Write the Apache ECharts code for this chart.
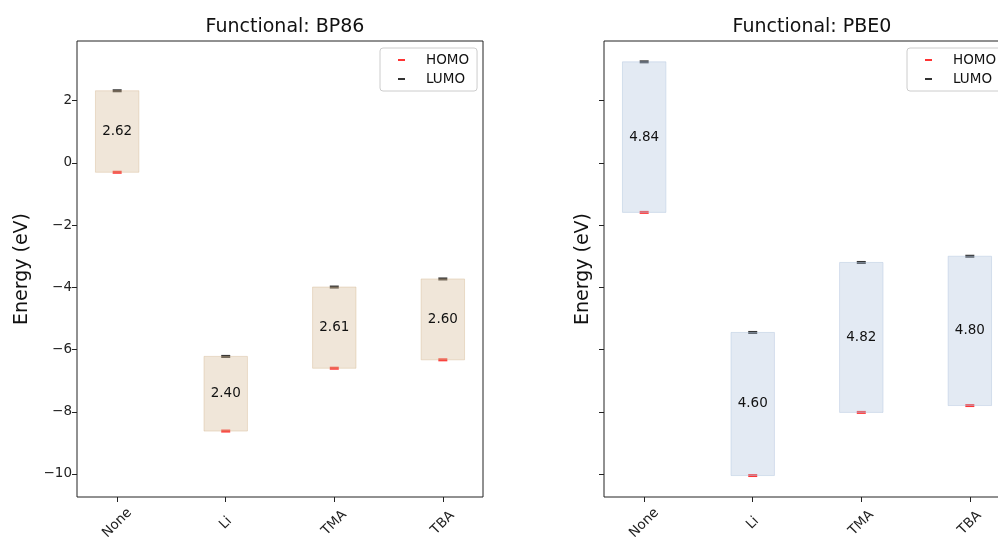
<!DOCTYPE html>
<html>
<head>
<meta charset="utf-8">
<script src="https://cdn.jsdelivr.net/npm/echarts@6/dist/echarts.min.js"></script>
<style>
  html, body { margin: 0; padding: 0; background: #fff; }
  #chart { width: 998px; height: 539px; }
</style>
</head>
<body>
<div id="chart"></div>
<script>
// values
var categories = ['None', 'Li', 'TMA', 'TBA'];
var bp86Homo = [-0.30, -8.62, -6.60, -6.33];
var bp86Lumo = [2.32, -6.22, -3.99, -3.73];
var bp86Gap = [2.62, 2.40, 2.61, 2.60];
var pbe0Homo = [-1.59, -10.05, -8.02, -7.80];
var pbe0Lumo = [3.25, -5.45, -3.20, -3.00];
var pbe0Gap = [4.84, 4.60, 4.82, 4.80];
var yTicks = [-10, -8, -6, -4, -2, 0, 2];
var xTicks = [0, 1, 2, 3];

var FONT = 'DejaVu Sans';
var myChart = echarts.init(document.getElementById('chart'));

function points(vals) {
    return vals.map(function (v, i) { return [i, v]; });
}
function boxes(homo, lumo, gap) {
    return homo.map(function (h, i) { return [i, h, lumo[i], gap[i]]; });
}

// rectangle from HOMO to LUMO, gap written in the middle
function boxRenderer(fill, edge) {
    return function (params, api) {
        var x = api.value(0);
        var lo = api.coord([x - 0.2, api.value(1)]);
        var hi = api.coord([x + 0.2, api.value(2)]);
        return {
            type: 'group',
            children: [{
                type: 'rect',
                shape: { x: lo[0], y: hi[1], width: hi[0] - lo[0], height: lo[1] - hi[1] },
                style: { fill: fill, stroke: edge, lineWidth: 1 }
            }, {
                type: 'text',
                style: {
                    text: api.value(3).toFixed(2),
                    x: (lo[0] + hi[0]) / 2,
                    y: (lo[1] + hi[1]) / 2,
                    align: 'center',
                    verticalAlign: 'middle',
                    fontFamily: FONT,
                    fontSize: 13.5,
                    fill: '#111'
                }
            }]
        };
    };
}

function makeX(idx) {
    return {
        type: 'value', gridIndex: idx, min: -0.37, max: 3.37,
        axisLine: { show: false, onZero: false },
        splitLine: { show: false },
        axisTick: { customValues: xTicks, length: 5, lineStyle: { color: '#222' } },
        axisLabel: {
            customValues: xTicks,
            formatter: function (v) { return categories[Math.round(v)]; },
            rotate: 45, align: 'center', verticalAlign: 'middle', margin: 26,
            fontFamily: FONT, fontSize: 13.5, color: '#222'
        }
    };
}
function makeY(idx, showLabels) {
    return {
        type: 'value', gridIndex: idx, min: -10.74, max: 3.92,
        name: 'Energy (eV)', nameLocation: 'middle', nameRotate: 90,
        nameGap: showLabels ? 45 : 11,
        nameTextStyle: { fontFamily: FONT, fontSize: 19, color: '#111' },
        axisLine: { show: false, onZero: false },
        splitLine: { show: false },
        axisTick: { customValues: yTicks, length: 5, lineStyle: { color: '#222' } },
        axisLabel: {
            show: showLabels,
            customValues: yTicks,
            formatter: function (v) { return String(v).replace('-', '\u2212'); },
            margin: 5, fontFamily: FONT, fontSize: 13.5, color: '#222'
        }
    };
}
function makeLegend(left) {
    return {
        left: left, top: 48, orient: 'vertical',
        data: ['HOMO', 'LUMO'],
        icon: 'rect', itemWidth: 7, itemHeight: 2, itemGap: 5,
        padding: [5, 8, 5, 18],
        backgroundColor: 'rgba(255,255,255,0.8)',
        borderColor: '#ccc', borderWidth: 1, borderRadius: 3,
        selectedMode: false,
        textStyle: { fontFamily: FONT, fontSize: 13.5, color: '#111', padding: [0, 0, 0, 16] }
    };
}
function markers(idx, homo, lumo) {
    return [{
        name: 'HOMO', type: 'scatter', xAxisIndex: idx, yAxisIndex: idx, z: 1,
        symbol: 'rect', symbolSize: [9, 3], itemStyle: { color: '#ff0000' },
        data: points(homo)
    }, {
        name: 'LUMO', type: 'scatter', xAxisIndex: idx, yAxisIndex: idx, z: 1,
        symbol: 'rect', symbolSize: [9, 3], itemStyle: { color: '#000000' },
        data: points(lumo)
    }];
}

var option = {
    animation: false,
    title: [{
        text: 'Functional: BP86', left: 280, top: 13, textAlign: 'center',
        textStyle: { fontFamily: FONT, fontSize: 19, fontWeight: 'normal', color: '#111' }
    }, {
        text: 'Functional: PBE0', left: 807, top: 13, textAlign: 'center',
        textStyle: { fontFamily: FONT, fontSize: 19, fontWeight: 'normal', color: '#111' }
    }],
    legend: [makeLegend(380), makeLegend(907)],
    grid: [
        { left: 77, top: 41, width: 406, height: 456, outerBoundsMode: 'none', show: true, borderColor: '#222', borderWidth: 1, backgroundColor: 'transparent' },
        { left: 604, top: 41, width: 406, height: 456, outerBoundsMode: 'none', show: true, borderColor: '#222', borderWidth: 1, backgroundColor: 'transparent' }
    ],
    xAxis: [makeX(0), makeX(1)],
    yAxis: [makeY(0, true), makeY(1, false)],
    series: markers(0, bp86Homo, bp86Lumo).concat(markers(1, pbe0Homo, pbe0Lumo)).concat([{
        type: 'custom', xAxisIndex: 0, yAxisIndex: 0, z: 3,
        renderItem: boxRenderer('rgba(210,180,140,0.33)', 'rgba(210,180,140,0.4)'),
        encode: { x: 0, y: [1, 2] },
        data: boxes(bp86Homo, bp86Lumo, bp86Gap)
    }, {
        type: 'custom', xAxisIndex: 1, yAxisIndex: 1, z: 3,
        renderItem: boxRenderer('rgba(176,196,222,0.35)', 'rgba(176,196,222,0.45)'),
        encode: { x: 0, y: [1, 2] },
        data: boxes(pbe0Homo, pbe0Lumo, pbe0Gap)
    }])
};
myChart.setOption(option);
</script>
</body>
</html>
